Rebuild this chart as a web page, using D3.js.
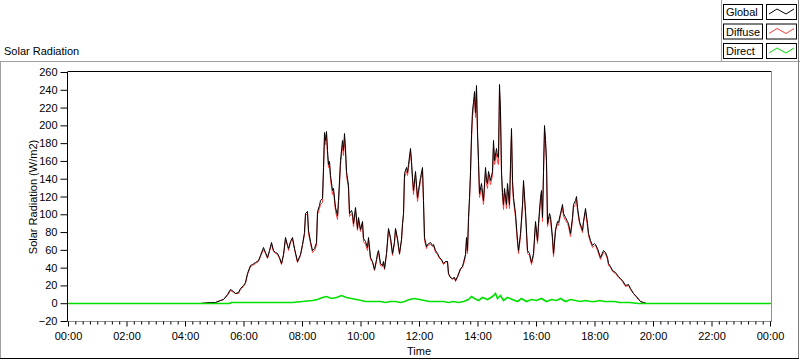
<!DOCTYPE html>
<html><head><meta charset="utf-8">
<script src="https://cdn.jsdelivr.net/npm/d3@7"></script>
<style>
html,body{margin:0;padding:0;background:#fff;}
svg{display:block;font-family:"Liberation Sans",Arial,sans-serif;font-size:11px;}
</style></head>
<body><svg id="c" width="800" height="361"></svg>
<script>
const seriesNames = ["Global", "Diffuse", "Direct"];
const seriesColors = ["#000000", "#ff3c3c", "#00e000"];
const yTicks = [-20,0,20,40,60,80,100,120,140,160,180,200,220,240,260];
const xTickLabels = ["00:00","02:00","04:00","06:00","08:00","10:00","12:00","14:00","16:00","18:00","20:00","22:00","00:00"];

const times = ["00:00","04:20","04:31","04:51","05:02","05:12","05:18","05:26","05:32","05:38","05:43","05:49","05:53","05:59","06:03","06:07","06:13","06:17","06:24","06:30","06:34","06:40","06:44","06:48","06:52","06:56","07:00","07:05","07:09","07:13","07:17","07:21","07:25","07:29","07:31","07:35","07:39","07:44","07:50","07:56","08:00","08:04","08:06","08:10","08:12","08:16","08:20","08:25","08:29","08:31","08:35","08:37","08:41","08:43","08:45","08:47","08:49","08:51","08:53","08:55","08:57","09:01","09:04","09:08","09:12","09:14","09:18","09:22","09:24","09:26","09:28","09:30","09:34","09:36","09:40","09:43","09:45","09:49","09:53","09:55","09:59","10:03","10:05","10:09","10:13","10:15","10:19","10:24","10:28","10:32","10:34","10:36","10:40","10:44","10:46","10:48","10:52","10:56","11:00","11:05","11:09","11:11","11:15","11:19","11:23","11:25","11:27","11:29","11:33","11:35","11:37","11:42","11:44","11:46","11:48","11:52","11:56","11:58","12:02","12:06","12:08","12:10","12:14","12:16","12:23","12:27","12:29","12:33","12:37","12:41","12:45","12:49","12:53","12:57","12:59","13:04","13:08","13:12","13:14","13:18","13:24","13:28","13:30","13:34","13:36","13:38","13:40","13:43","13:45","13:47","13:49","13:51","13:53","13:55","13:57","13:59","14:01","14:03","14:07","14:11","14:15","14:17","14:19","14:22","14:26","14:30","14:32","14:34","14:38","14:40","14:42","14:44","14:46","14:48","14:50","14:52","14:54","14:58","15:00","15:05","15:07","15:09","15:11","15:13","15:17","15:21","15:23","15:27","15:31","15:33","15:37","15:41","15:46","15:50","15:54","15:58","16:02","16:04","16:08","16:10","16:12","16:14","16:16","16:18","16:20","16:23","16:27","16:29","16:33","16:35","16:39","16:43","16:45","16:49","16:53","16:55","16:59","17:04","17:06","17:10","17:14","17:16","17:20","17:22","17:24","17:28","17:32","17:34","17:36","17:40","17:45","17:47","17:51","17:55","17:59","18:01","18:05","18:11","18:17","18:21","18:26","18:28","18:32","18:36","18:42","18:48","18:52","18:56","19:03","19:09","19:13","19:19","19:25","19:33","19:40","19:46","24:00"];

const globalVals = [0,0,0.5,1.5,1.5,4,5,10,16,14,12,13,17,20,24,34,43,44,46,49,54,63,58,52,60,69,60,58,56,52,45,55,74,66,62,70,74,62,48,55,67,80,102,104,82,70,60,62,69,104,110,116,118,153,192,183,194,172,157,160,144,127,130,108,99,116,161,183,172,191,175,149,133,101,105,101,90,108,85,97,84,93,73,70,63,74,52,48,39,50,56,60,45,43,47,40,56,85,74,56,70,85,73,56,72,90,101,146,153,148,157,175,160,142,127,149,119,127,142,153,116,74,64,67,69,66,67,60,57,52,50,45,47,48,34,30,28,30,26,31,40,42,46,55,74,60,97,120,149,190,217,226,239,215,245,194,161,124,135,116,153,140,135,149,138,149,183,161,175,165,164,247,217,149,125,112,130,112,135,112,157,197,138,119,101,71,60,79,112,138,104,60,57,46,57,93,71,90,119,127,97,149,200,185,161,90,102,98,74,56,84,93,91,102,112,101,97,93,90,79,97,112,116,121,108,93,86,82,93,107,90,79,71,65,68,67,62,52,60,58,52,45,42,37,35,31,28,26,20,22,17,12,8,3,1,0,0];

const diffuseVals = [0,0,0.5,1.5,1.5,3.5,4.5,9,15,13,11,12,16,19,23,33,42,43,45,48,53,61,57,51,59,67,59,57,55,51,44,54,72,65,60,69,72,61,46,54,65,78,99,101,79,68,58,60,66,100,107,112,114,149,186,179,190,167,153,156,140,123,126,104,95,112,155,178,167,186,170,144,129,98,102,98,87,105,82,94,81,90,70,67,60,72,50,46,37,48,54,58,43,42,46,39,55,82,72,54,68,83,71,55,71,88,99,142,149,144,152,171,156,138,123,145,115,123,138,149,113,71,62,65,67,64,65,58,55,51,49,44,46,47,33,29,27,29,25,30,39,41,44,53,71,57,93,115,144,184,210,219,232,209,239,188,156,119,130,112,147,135,130,144,134,144,177,156,169,159,156,239,211,144,120,106,125,107,130,107,152,191,133,115,97,68,57,76,108,134,100,57,54,44,54,89,68,86,115,123,93,145,195,180,156,87,98,95,71,53,81,90,88,99,108,98,94,90,87,76,94,108,112,117,105,90,83,80,91,104,87,77,69,63,66,65,60,50,58,56,50,43,41,36,34,30,27,25,19,21,16,11,7,2.5,1,0,0];

const directTimes = ["00:00","05:30","05:35","06:00","06:40","07:20","07:40","08:00","08:20","08:30","08:40","08:50","09:00","09:10","09:20","09:30","09:40","09:50","10:00","10:10","10:20","10:30","10:40","10:50","11:00","11:10","11:20","11:30","11:40","11:50","12:00","12:10","12:20","12:30","12:40","12:50","13:00","13:10","13:20","13:30","13:40","13:47","13:53","14:00","14:10","14:20","14:30","14:36","14:40","14:46","14:52","15:00","15:10","15:20","15:30","15:40","15:50","16:00","16:10","16:20","16:30","16:40","16:50","17:00","17:10","17:20","17:30","17:40","17:50","18:00","18:10","18:20","18:30","18:40","18:50","19:00","19:10","19:30","24:00"];
const directVals = [0,0,1,1,1,1,1.5,2,4,5,7,8,6,7,9,7,6,5,4,3,2,3,2,1,2,2,1,3,5,6,5,4,3,3,2,2,1,2,1,3,5,8,6,4,7,5,8,11,6,9,4,7,5,3,6,3,5,4,6,3,5,4,6,3,5,4,3,4,2,3,4,3,2,2,1,1,1,0,0];

function toMin(s){ const p = s.split(":"); return (+p[0])*60 + (+p[1]); }

const svg = d3.select("#c");
const W = 800, H = 361;
const x = d3.scaleLinear().domain([0, 1440]).range([68, 770]);
const y = d3.scaleLinear().domain([-20, 260]).range([321, 72]);

// panel frame
svg.append("rect").attr("x",0).attr("y",0).attr("width",W).attr("height",H).attr("fill","#fff");
svg.append("text").attr("x",4).attr("y",55).text("Solar Radiation");
svg.append("line").attr("x1",0).attr("x2",800).attr("y1",61.5).attr("y2",61.5).attr("stroke","#a0a0a0").attr("stroke-width",1);
svg.append("line").attr("x1",0.5).attr("x2",0.5).attr("y1",61).attr("y2",359).attr("stroke","#a0a0a0");
svg.append("line").attr("x1",798.5).attr("x2",798.5).attr("y1",0).attr("y2",359).attr("stroke","#808080");
svg.append("line").attr("x1",0).attr("x2",799).attr("y1",358.5).attr("y2",358.5).attr("stroke","#000");
svg.append("line").attr("x1",721.5).attr("x2",721.5).attr("y1",0).attr("y2",62).attr("stroke","#a0a0a0");

// legend
const lg = svg.append("g");
seriesNames.forEach((n,i)=>{
  const yy = 4 + i*19.5;
  lg.append("rect").attr("x",723.5).attr("y",yy+0.5).attr("width",39).attr("height",15).attr("fill","#fff").attr("stroke","#000");
  lg.append("text").attr("x",726).attr("y",yy+12).text(n);
  lg.append("rect").attr("x",766.5).attr("y",yy+0.5).attr("width",30).attr("height",15).attr("fill","#fff").attr("stroke","#000");
  const zx = [769, 777, 786, 794], zy = [yy+10, yy+5, yy+10, yy+5];
  lg.append("path").attr("d", d3.line()(zx.map((v,k)=>[v, zy[k]]))).attr("fill","none").attr("stroke",seriesColors[i]).attr("stroke-width",1);
});

// plot frame
svg.append("line").attr("x1",68).attr("x2",771.5).attr("y1",71.5).attr("y2",71.5).attr("stroke","#000");
svg.append("line").attr("x1",771.5).attr("x2",771.5).attr("y1",71).attr("y2",321.5).attr("stroke","#909090");
svg.append("line").attr("x1",68).attr("x2",772).attr("y1",321.5).attr("y2",321.5).attr("stroke","#909090");

// y axis
const yAxis = d3.axisLeft(y).tickValues(yTicks).tickSize(7).tickPadding(3).tickFormat(d3.format("d"));
const ga = svg.append("g").attr("transform","translate(67.5,0)").call(yAxis);
ga.select(".domain").attr("stroke","#000").attr("d","M0,71.5V321.5");
ga.selectAll("text").attr("font-size",11).attr("font-family","Liberation Sans, Arial, sans-serif").attr("fill","#000");

// x axis minor
const minor = d3.range(0, 1441, 15).filter(v => v % 120 !== 0);
const gx2 = svg.append("g").attr("transform","translate(0,321.5)").call(d3.axisBottom(x).tickValues(minor).tickSize(3).tickFormat(""));
gx2.select(".domain").remove();
const major = xTickLabels.map((l,i)=> i*120);
const gx = svg.append("g").attr("transform","translate(0,321.5)")
  .call(d3.axisBottom(x).tickValues(major).tickSize(5).tickPadding(6).tickFormat((d,i)=>xTickLabels[i]));
gx.select(".domain").remove();
gx.selectAll("text").attr("font-size",11).attr("font-family","Liberation Sans, Arial, sans-serif").attr("fill","#000");

svg.append("text").attr("x",419).attr("y",355).attr("text-anchor","middle").text("Time");
svg.append("text").attr("transform","translate(37,197) rotate(-90)").attr("text-anchor","middle").text("Solar Radiation (W/m2)");

// data lines (snapped to pixel centres for a crisp look)
const tMin = times.map(toMin);
const dMin = directTimes.map(toMin);
const line = d3.line().x(d=>Math.round(x(d[0]))+0.5).y(d=>Math.round(y(d[1]))+0.5);
const g = svg.append("g");
g.append("path").attr("d", line(tMin.map((t,i)=>[t, diffuseVals[i]]))).attr("fill","none").attr("stroke",seriesColors[1]).attr("stroke-width",1);
g.append("path").attr("d", line(tMin.map((t,i)=>[t, globalVals[i]]))).attr("fill","none").attr("stroke",seriesColors[0]).attr("stroke-width",1);
g.append("path").attr("d", line(dMin.map((t,i)=>[t, directVals[i]]))).attr("fill","none").attr("stroke",seriesColors[2]).attr("stroke-width",1.6);
</script></body></html>
